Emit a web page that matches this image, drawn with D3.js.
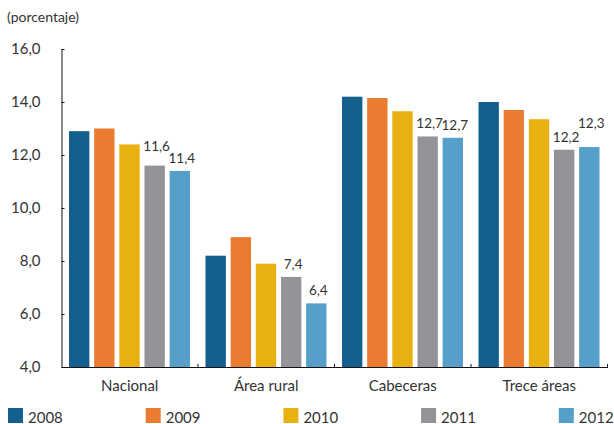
<!DOCTYPE html>
<html>
<head>
<meta charset="utf-8">
<script src="https://cdn.jsdelivr.net/npm/d3@7"></script>
<style>
  body { margin: 0; background: #fff; }
  svg text { font-family: Lato, "Open Sans", sans-serif; fill: #333; }
</style>
</head>
<body>
<div id="chart"></div>
<script>
// Categories and series
const categories = ["Nacional", "Área rural", "Cabeceras", "Trece áreas"]
const years = ["2008", "2009", "2010", "2011", "2012"]
const values2008 = [12.9, 8.2, 14.2, 14.0]
const values2009 = [13.0, 8.9, 14.15, 13.7]
const values2010 = [12.4, 7.9, 13.65, 13.35]
const values2011 = [11.6, 7.4, 12.7, 12.2]
const values2012 = [11.4, 6.4, 12.65, 12.3]
const yTicks = [4, 6, 8, 10, 12, 14, 16]
// Only the last two years carry a value label
const labelledYears = ["2011", "2012"]

const colors = {
  "2008": "#135f8d",
  "2009": "#e97c31",
  "2010": "#e9b012",
  "2011": "#939497",
  "2012": "#569fc8"
}

const series = { "2008": values2008, "2009": values2009, "2010": values2010, "2011": values2011, "2012": values2012 }

// Build rows: one per category with a value per year
const rows = categories.map((c, i) => {
  const row = { category: c }
  years.forEach(y => { row[y] = series[y][i] })
  return row
})

const width = 614
const height = 424

const svg = d3.select("#chart").append("svg")
  .attr("width", width)
  .attr("height", height)

// Scales
const x0 = d3.scaleBand().domain(categories).range([61.5, 607.5])
const x1 = d3.scaleBand().domain(years).range([7.5, 128.5]).paddingInner(0.19)
const y = d3.scaleLinear().domain([4, 16]).range([367, 49])

const fmt = v => v.toFixed(1).replace(".", ",")

// Unit label
svg.append("text")
  .attr("x", 7)
  .attr("y", 22)
  .style("font-size", "14px")
  .text("(porcentaje)")

// Bars
const group = svg.selectAll("g.group")
  .data(rows)
  .enter()
  .append("g")
  .attr("class", "group")
  .attr("transform", d => `translate(${x0(d.category)},0)`)

group.selectAll("rect")
  .data(d => years.map(yr => ({ year: yr, value: d[yr], category: d.category })))
  .enter()
  .append("rect")
  .attr("x", d => x1(d.year))
  .attr("width", x1.bandwidth())
  .attr("y", d => y(d.value))
  .attr("height", d => y(4) - y(d.value))
  .style("fill", d => colors[d.year])

// Some labels sit higher in the original to stay clear of neighbours
const raised = { "Nacional-2011": 7, "Trece áreas-2012": 11 }

group.selectAll("text.value")
  .data(d => years.filter(yr => labelledYears.includes(yr)).map(yr => ({ year: yr, value: d[yr], category: d.category })))
  .enter()
  .append("text")
  .attr("class", "value")
  .attr("text-anchor", "middle")
  .attr("x", d => x1(d.year) + x1.bandwidth() / 2 + 2)
  .attr("y", d => y(d.value) - 8 - (raised[d.category + "-" + d.year] || 0))
  .style("font-size", "13.5px")
  .text(d => fmt(d.value))

// Y axis, ticks pointing inward
const yAxis = svg.append("g")
  .attr("transform", "translate(61.5,0)")
  .call(d3.axisLeft(y).tickValues(yTicks).tickSize(-3).tickSizeOuter(0).tickPadding(21).tickFormat(fmt))
yAxis.select(".domain").attr("stroke", "#111")
yAxis.selectAll(".tick line").attr("stroke", "#111")
yAxis.selectAll("text").style("font-size", "15px").style("fill", "#333")

// X axis with category labels, boundary ticks pointing up
const xAxis = svg.append("g")
  .attr("transform", "translate(0,367)")
  .call(d3.axisBottom(x0).tickSize(0).tickPadding(13))
xAxis.select(".domain").attr("stroke", "#111")
xAxis.selectAll("text").style("font-size", "15px").style("fill", "#333")

xAxis.selectAll("line.boundary")
  .data(categories.slice(1).map(c => x0(c)).concat([x0.range()[1]]))
  .enter()
  .append("line")
  .attr("class", "boundary")
  .attr("x1", d => d)
  .attr("x2", d => d)
  .attr("y1", 0)
  .attr("y2", -3)
  .attr("stroke", "#111")

// Legend along the bottom
const legend = svg.selectAll("g.legend")
  .data(years)
  .enter()
  .append("g")
  .attr("class", "legend")
  .attr("transform", (d, i) => `translate(${8 + i * 137.7},408)`)

legend.append("rect")
  .attr("width", 15)
  .attr("height", 15)
  .style("fill", d => colors[d])

legend.append("text")
  .attr("x", 20)
  .attr("y", 14.5)
  .style("font-size", "15px")
  .text(d => d)
</script>
</body>
</html>
